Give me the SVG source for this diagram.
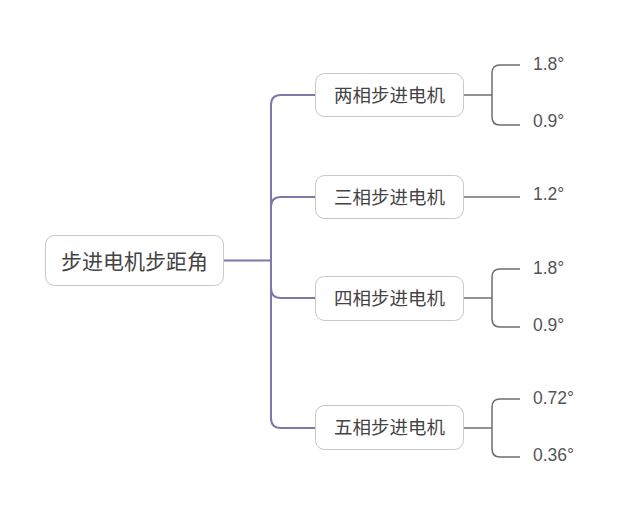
<svg xmlns="http://www.w3.org/2000/svg" width="636" height="522" viewBox="0 0 636 522">
<style>
.box{fill:#fff;stroke:#c8c8c8;stroke-width:1}
.t{font-family:"Noto Sans CJK SC","Liberation Sans",sans-serif;fill:#444}
.lf{font-family:"Liberation Sans",Arial,sans-serif;font-size:17.5px;fill:#555}
.main{fill:none;stroke:#7d77aa;stroke-width:2}
.sub{fill:none;stroke:#6e6e6e;stroke-width:1.5}
</style>
<rect width="636" height="522" fill="#fff"/>
<g id="connectors">
<path class="main" d="M223 260.5H271"/>
<path class="main" d="M315 95H281Q271 95 271 105V418Q271 428 281 428H315"/>
<path class="main" d="M271 207Q271 197 281 197H315"/>
<path class="main" d="M271 288Q271 298 281 298H315"/>
<path class="sub" d="M464 95H492"/>
<path class="sub" d="M520 65H500Q492 65 492 73V117Q492 125 500 125H520"/>
<path class="sub" d="M464 197H520"/>
<path class="sub" d="M464 298H492"/>
<path class="sub" d="M520 269H500Q492 269 492 277V319Q492 327 500 327H520"/>
<path class="sub" d="M464 428H492"/>
<path class="sub" d="M520 399H500Q492 399 492 407V449Q492 457 500 457H520"/>
</g>
<g id="root"><rect class="box" x="45.5" y="235.5" width="178" height="50" rx="9"/><text class="t" x="134.5" y="268.5" font-size="21" text-anchor="middle">步进电机步距角</text></g>
<g id="n2"><rect class="box" x="315.5" y="73.5" width="148" height="43" rx="9"/><text class="t" x="389.5" y="101.5" font-size="18.5" text-anchor="middle">两相步进电机</text></g>
<g id="n3"><rect class="box" x="315.5" y="175.5" width="148" height="43" rx="9"/><text class="t" x="389.5" y="203.5" font-size="18.5" text-anchor="middle">三相步进电机</text></g>
<g id="n4"><rect class="box" x="315.5" y="276.5" width="148" height="44" rx="9"/><text class="t" x="389.5" y="305" font-size="18.5" text-anchor="middle">四相步进电机</text></g>
<g id="n5"><rect class="box" x="315.5" y="405.5" width="148" height="44" rx="9"/><text class="t" x="389.5" y="434" font-size="18.5" text-anchor="middle">五相步进电机</text></g>
<g id="l1"><text class="lf" x="533" y="70">1.8°</text></g>
<g id="l2"><text class="lf" x="533" y="127">0.9°</text></g>
<g id="l3"><text class="lf" x="533" y="200">1.2°</text></g>
<g id="l4"><text class="lf" x="533" y="274">1.8°</text></g>
<g id="l5"><text class="lf" x="533" y="331">0.9°</text></g>
<g id="l6"><text class="lf" x="533" y="404">0.72°</text></g>
<g id="l7"><text class="lf" x="533" y="461">0.36°</text></g>
</svg>
